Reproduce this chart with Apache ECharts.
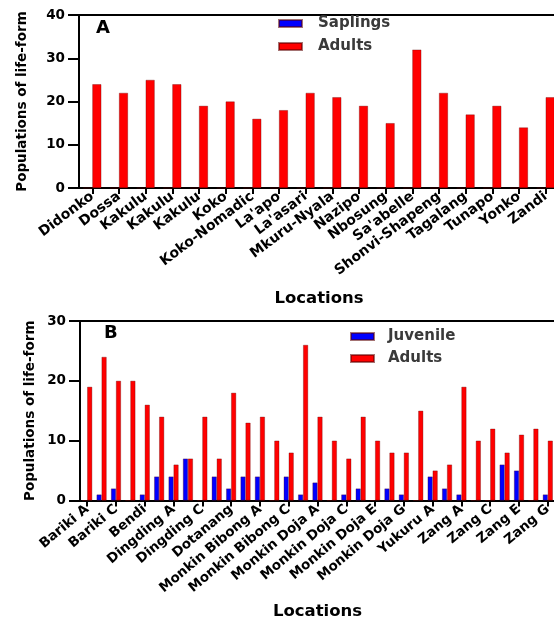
<!DOCTYPE html>
<html>
<head>
<meta charset="utf-8">
<script src="https://cdn.jsdelivr.net/npm/echarts@6/dist/echarts.min.js"></script>
<style>
html,body{margin:0;padding:0;background:#fff;}
#c{width:554px;height:625px;}
</style>
</head>
<body>
<div id="c"></div>
<script>
// Panel A data
const catsA = ["Didonko","Dossa","Kakulu","Kakulu","Kakulu","Koko","Koko-Nomadic","La'apo","La'asari","Mkuru-Nyala","Nazipo","Nbosung","Sa'abelle","Shonvi-Shapeng","Tagalang","Tunapo","Yonko","Zandi"];
const saplingsA = [0,0,0,0,0,0,0,0,0,0,0,0,0,0,0,0,0,0];
const adultsA = [24,22,25,24,19,20,16,18,22,21,19,15,32,22,17,19,14,21];
const yTicksA = [0,10,20,30,40];

// Panel B data
const catsB = ["Bariki A","Bariki B","Bariki C","Bariki D","Bendi","Bokkos","Dingding A","Dingding B","Dingding C","Dingding D","Dotanang","Kopal","Monkin Bibong A","Monkin Bibong B","Monkin Bibong C","Monkin Bibong D","Monkin Doja A","Monkin Doja B","Monkin Doja C","Monkin Doja D","Monkin Doja E","Monkin Doja F","Monkin Doja G","Yukuru","Yukuru A","Yukuru B","Zang A","Zang B","Zang C","Zang D","Zang E","Zang F","Zang G"];
const juvenileB = [0,1,2,0,1,4,4,7,0,4,2,4,4,0,4,1,3,0,1,2,0,2,1,0,4,2,1,0,0,6,5,0,1];
const adultsB = [19,24,20,20,16,14,6,7,14,7,18,13,14,10,8,26,14,10,7,14,10,8,8,15,5,6,19,10,12,8,11,12,10];
const yTicksB = [0,10,20,30];

const FONT = "DejaVu Sans";
const BLUE = "#0000ff";
const RED = "#ff0000";

function xAxisCfg(gridIndex, cats, interval, gap, rot, fs) {
  return {
    type: 'category', gridIndex: gridIndex, data: cats,
    axisLine: {lineStyle: {color: '#000', width: 2}},
    axisTick: {show: true, alignWithLabel: true, interval: interval, length: 6, lineStyle: {color: '#000', width: 2}},
    axisLabel: {interval: interval, rotate: rot, margin: 7, color: '#000', fontFamily: FONT, fontWeight: 'bold', fontSize: fs},
    name: 'Locations', nameLocation: 'middle', nameGap: gap, nameMoveOverlap: false,
    nameTextStyle: {color: '#000', fontFamily: FONT, fontWeight: 'bold', fontSize: 16.5, verticalAlign: 'top'}
  };
}
function topAxisCfg(gridIndex, cats) {
  return {
    type: 'category', gridIndex: gridIndex, data: cats, position: 'top',
    axisLine: {show: true, lineStyle: {color: '#000', width: 2}},
    axisTick: {show: false}, axisLabel: {show: false}
  };
}
function yAxisCfg(gridIndex, ticks, gap) {
  return {
    type: 'value', gridIndex: gridIndex, min: ticks[0], max: ticks[ticks.length - 1], interval: ticks[1] - ticks[0],
    axisLine: {show: true, lineStyle: {color: '#000', width: 2}},
    axisTick: {show: true, length: 11, lineStyle: {color: '#000', width: 2}},
    axisLabel: {margin: 14, color: '#000', fontFamily: FONT, fontWeight: 'bold', fontSize: 13.5},
    splitLine: {show: false},
    name: 'Populations of life-form', nameLocation: 'middle', nameGap: gap, nameRotate: 90, nameMoveOverlap: false,
    nameTextStyle: {color: '#000', fontFamily: FONT, fontWeight: 'bold', fontSize: 13.5}
  };
}
const barBorder = {borderColor: 'rgba(90,0,0,0.55)', borderWidth: 0.6};

const option = {
  animation: false,
  backgroundColor: '#fff',
  title: [
    {text: 'A', left: 96, top: 19, padding: 0, textStyle: {fontFamily: FONT, fontWeight: 'bold', fontSize: 18, color: '#000'}},
    {text: 'B', left: 104, top: 324, padding: 0, textStyle: {fontFamily: FONT, fontWeight: 'bold', fontSize: 18, color: '#000'}}
  ],
  legend: [
    {data: ['Saplings', 'Adults'], orient: 'vertical', left: 278, top: 16, itemWidth: 23, itemHeight: 7, itemGap: 8,
     icon: 'rect', padding: 0, textStyle: {fontFamily: FONT, fontSize: 15, fontWeight: 'bold', color: '#3a3a3a', padding: [0,0,0,11]}},
    {data: ['Juvenile', 'Adults'], orient: 'vertical', left: 350, top: 329, itemWidth: 23, itemHeight: 7, itemGap: 7,
     icon: 'rect', padding: 0, textStyle: {fontFamily: FONT, fontSize: 15, fontWeight: 'bold', color: '#3a3a3a', padding: [0,0,0,9]}}
  ],
  grid: [
    {left: 79, top: 15, width: 480, height: 173, outerBoundsMode: 'none'},
    {left: 80, top: 321, width: 475, height: 179.5, outerBoundsMode: 'none'}
  ],
  xAxis: [
    xAxisCfg(0, catsA, 0, 102, 37, 14),
    xAxisCfg(1, catsB, 1, 103, 40, 13.5),
    topAxisCfg(0, catsA),
    topAxisCfg(1, catsB)
  ],
  yAxis: [
    yAxisCfg(0, yTicksA, 50),
    yAxisCfg(1, yTicksB, 43)
  ],
  series: [
    {name: 'Saplings', type: 'bar', xAxisIndex: 0, yAxisIndex: 0, data: saplingsA, barWidth: 9, barGap: '0%', itemStyle: Object.assign({color: BLUE}, barBorder)},
    {name: 'Adults', type: 'bar', xAxisIndex: 0, yAxisIndex: 0, data: adultsA, barWidth: 9, barGap: '0%', itemStyle: Object.assign({color: RED}, barBorder)},
    {name: 'Juvenile', type: 'bar', xAxisIndex: 1, yAxisIndex: 1, data: juvenileB, barWidth: 5, barGap: '0%', itemStyle: Object.assign({color: BLUE}, barBorder)},
    {name: 'Adults', type: 'bar', xAxisIndex: 1, yAxisIndex: 1, data: adultsB, barWidth: 5, barGap: '0%', itemStyle: Object.assign({color: RED}, barBorder)}
  ]
};
const chart = echarts.init(document.getElementById('c'), null, {renderer: 'canvas'});
chart.setOption(option);
</script>
</body>
</html>
